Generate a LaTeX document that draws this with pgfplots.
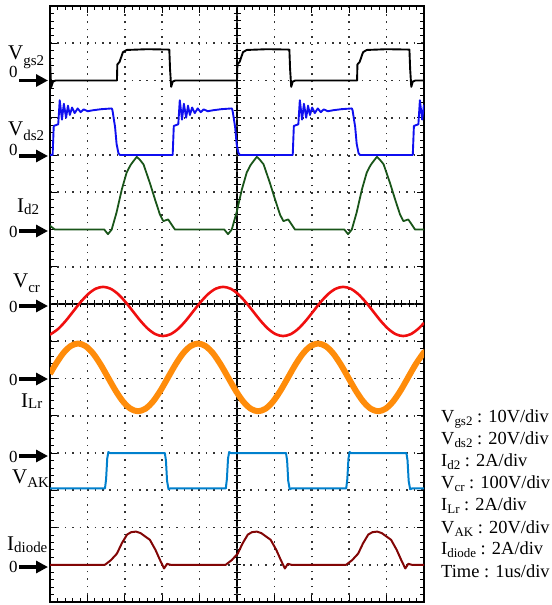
\documentclass[border=0pt]{standalone}
\usepackage{fontspec}
\setmainfont{Liberation Serif}
\usepackage{pgfplots}
\pgfplotsset{compat=1.18}
\usetikzlibrary{arrows.meta}

\definecolor{cgs}{RGB}{0,0,0}
\definecolor{cds}{RGB}{15,15,240}
\definecolor{cid}{RGB}{25,85,25}
\definecolor{ccr}{RGB}{240,15,15}
\definecolor{clr}{RGB}{255,140,10}
\definecolor{cak}{RGB}{0,128,205}
\definecolor{cdi}{RGB}{130,5,5}

% left channel labels and right scale list
\newcommand{\lblL}[3]{\fontsize{21}{21}\selectfont #1\raisebox{-#3bp}{\fontsize{15}{15}\selectfont #2}}
\newcommand{\lblR}[3]{\fontsize{18.5}{18.5}\selectfont #1\raisebox{-3bp}{\fontsize{13}{13}\selectfont #2} : #3}

\pgfplotsset{scopeframe/.style={at={(50bp,-602bp)}, anchor=south west,
    width=374bp, height=596bp, scale only axis,
    xticklabels={}, yticklabels={}, minor tick num=4}}

\begin{document}
\begin{tikzpicture}
\useasboundingbox (0,0) rectangle (552bp,-605bp);

% centre cross of the scope screen
\begin{axis}[scopeframe, xmin=-5, xmax=5, ymin=-8, ymax=8,
    axis lines=middle, axis line style={-, line width=1.3pt},
    xtick={-5,...,5}, ytick={-8,...,8}, tick align=center,
    major tick length=8bp, minor tick length=7bp,
    tick style={black, line width=0.8pt}]
\end{axis}

% grid, frame and traces (x in us, y in divisions: channel value / scale + zero level)
\begin{axis}[scopeframe, xmin=0, xmax=10, ymin=0, ymax=16,
    xtick={0,...,10}, ytick={0,...,16}, tick align=inside,
    major tick length=7bp, minor tick length=4bp,
    tick style={black, line width=0.8pt}, axis line style={line width=1.1pt},
    grid=major, major grid style={black!80, line width=1.6pt, dash pattern=on 1.6pt off 5.85pt},
    every axis plot/.append style={line join=round}]

% I_Lr, 2 A/div, zero at 6
\addplot[clr, line width=6pt, smooth, y filter/.expression={y/2+6}] coordinates {
(0,0.25)(0.15,0.76)(0.35,1.35)(0.55,1.74)(0.75,1.88)(0.95,1.74)(1.15,1.35)(1.35,0.76)
(1.55,0.06)(1.75,-0.64)(1.95,-1.23)(2.15,-1.62)(2.35,-1.76)(2.555,-1.62)(2.756,-1.23)
(2.957,-0.64)(3.157,0.06)(3.358,0.76)(3.558,1.35)(3.759,1.74)(3.96,1.88)(4.16,1.74)
(4.36,1.35)(4.56,0.76)(4.762,0.06)(4.963,-0.64)(5.163,-1.23)(5.364,-1.62)(5.564,-1.76)
(5.765,-1.62)(5.966,-1.23)(6.166,-0.64)(6.367,0.06)(6.567,0.76)(6.768,1.35)(6.969,1.74)
(7.169,1.88)(7.37,1.74)(7.57,1.35)(7.771,0.76)(7.972,0.06)(8.172,-0.64)(8.373,-1.23)
(8.573,-1.62)(8.774,-1.76)(8.975,-1.62)(9.175,-1.23)(9.376,-0.64)(9.576,0.06)(9.777,0.76)
(9.978,1.35)(10,1.40)};

% V_gs2, 10 V/div, zero at 14
\addplot[cgs, line width=1.9pt, y filter/.expression={y/10+14}] coordinates {
(0,5.6)(0.03,-1.8)(0.08,-0.3)(0.15,0)(1.79,0)(1.80,4.3)(1.86,5.0)(1.95,7.6)(2.05,8.2)
(2.6,8.4)(3.19,8.3)(3.21,3)(3.24,-1.7)(3.28,-0.3)(3.35,0)(5.00,0)(5.01,4.3)(5.07,5.0)
(5.16,7.6)(5.26,8.2)(5.8,8.4)(6.40,8.3)(6.42,3)(6.45,-1.7)(6.49,-0.3)(6.56,0)(8.21,0)
(8.22,4.3)(8.28,5.0)(8.37,7.6)(8.47,8.2)(9.0,8.4)(9.61,8.3)(9.63,3)(9.66,-1.7)(9.70,-0.3)
(9.77,0)(10,0)};

% V_ds2, 20 V/div, zero at 12
\addplot[cds, line width=1.9pt, y filter/.expression={y/20+12}] coordinates {
(0,0)(0.07,0)(0.10,15.6)(0.22,16.5)(0.26,29.4)(0.32,19)(0.37,27.5)(0.43,20)(0.48,26.5)
(0.53,21.5)(0.59,25.5)(0.66,22.5)(0.74,25)(0.82,23)(0.90,24.5)(1.01,23.5)(1.14,24)
(1.37,24.6)(1.65,25)(1.67,24)(1.74,15)(1.78,6)(1.83,1)(1.87,0)
(3.28,0)(3.31,15.6)(3.43,16.5)(3.47,29.4)(3.53,19)(3.58,27.5)(3.64,20)(3.69,26.5)
(3.74,21.5)(3.80,25.5)(3.87,22.5)(3.95,25)(4.03,23)(4.11,24.5)(4.22,23.5)(4.35,24)
(4.58,24.6)(4.86,25)(4.88,24)(4.95,15)(4.99,6)(5.04,1)(5.08,0)
(6.49,0)(6.52,15.6)(6.64,16.5)(6.68,29.4)(6.74,19)(6.79,27.5)(6.85,20)(6.90,26.5)
(6.95,21.5)(7.01,25.5)(7.08,22.5)(7.16,25)(7.24,23)(7.32,24.5)(7.43,23.5)(7.56,24)
(7.79,24.6)(8.07,25)(8.09,24)(8.16,15)(8.20,6)(8.25,1)(8.29,0)
(9.70,0)(9.73,15.6)(9.85,16.5)(9.89,29.4)(9.95,19)(10,27)};

% I_d2, 2 A/div, zero at 10
\addplot[cid, line width=1.8pt, y filter/.expression={y/2+10}] coordinates {
(0,0.2)(0.13,0)(1.45,0)(1.55,-0.25)(1.65,0)(1.78,0.92)(1.92,2.15)(2.05,3.06)(2.15,3.45)
(2.23,3.67)(2.32,3.9)(2.40,3.75)(2.50,3.5)(2.67,2.5)(2.81,1.6)(2.94,0.8)(3.03,0.45)
(3.10,0.5)(3.16,0.54)(3.25,0.27)(3.34,0)
(4.66,0)(4.76,-0.25)(4.86,0)(4.99,0.92)(5.13,2.15)(5.26,3.06)(5.36,3.45)(5.44,3.67)
(5.53,3.9)(5.61,3.75)(5.71,3.5)(5.88,2.5)(6.02,1.6)(6.15,0.8)(6.24,0.45)(6.31,0.5)
(6.37,0.54)(6.46,0.27)(6.55,0)
(7.87,0)(7.97,-0.25)(8.07,0)(8.20,0.92)(8.34,2.15)(8.47,3.06)(8.57,3.45)(8.65,3.67)
(8.74,3.9)(8.82,3.75)(8.92,3.5)(9.09,2.5)(9.23,1.6)(9.36,0.8)(9.45,0.45)(9.52,0.5)
(9.58,0.54)(9.67,0.27)(9.76,0)(10,0)};

% V_cr, 100 V/div, zero at 8
\addplot[ccr, line width=2.6pt, smooth, y filter/.expression={y/100+8}] coordinates {
(0,-81.7)(0.02,-81)(0.22,-66.7)(0.42,-45.3)(0.62,-20)(0.82,5.3)(1.02,26.7)(1.22,41)
(1.42,46)(1.62,41)(1.82,26.7)(2.02,5.3)(2.22,-20)(2.42,-45.3)(2.62,-66.7)(2.82,-81)
(3.02,-86)(3.225,-81)(3.426,-66.7)(3.627,-45.3)(3.827,-20)(4.028,5.3)(4.228,26.7)
(4.429,41)(4.63,46)(4.83,41)(5.03,26.7)(5.23,5.3)(5.432,-20)(5.633,-45.3)(5.833,-66.7)
(6.034,-81)(6.234,-86)(6.435,-81)(6.636,-66.7)(6.836,-45.3)(7.037,-20)(7.237,5.3)
(7.438,26.7)(7.639,41)(7.839,46)(8.04,41)(8.24,26.7)(8.441,5.3)(8.642,-20)(8.842,-45.3)
(9.043,-66.7)(9.243,-81)(9.444,-86)(9.645,-81)(9.845,-66.7)(10,-50.8)};

% V_AK, 20 V/div, zero at 4
\addplot[cak, line width=2pt, y filter/.expression={y/20+4}] coordinates {
(0,-19)(1.47,-19)(1.50,-14)(1.53,-3)(1.56,0.5)(1.60,0)(3.07,0)(3.10,-4)(3.13,-15)
(3.17,-19.5)(3.22,-19)(4.70,-19)(4.73,-14)(4.76,-3)(4.79,0.5)(4.83,0)(6.31,0)(6.34,-4)
(6.37,-15)(6.41,-19.5)(6.46,-19)(7.92,-19)(7.95,-14)(7.98,-3)(8.01,0.5)(8.05,0)(9.53,0)
(9.56,-4)(9.59,-15)(9.63,-19.5)(9.68,-19)(10,-19)};

% I_diode, 2 A/div, zero at 1
\addplot[cdi, line width=2pt, y filter/.expression={y/2+1}] coordinates {
(0,0)(1.47,0)(1.63,0.25)(1.79,0.6)(1.92,1.15)(2.06,1.62)(2.17,1.75)(2.30,1.78)(2.42,1.7)
(2.67,1.34)(2.82,0.8)(2.94,0.26)(3.05,-0.2)(3.13,0.05)(3.22,0)
(4.70,0)(4.86,0.25)(5.02,0.6)(5.15,1.15)(5.29,1.62)(5.40,1.75)(5.53,1.78)(5.65,1.7)
(5.90,1.34)(6.05,0.8)(6.17,0.26)(6.28,-0.2)(6.36,0.05)(6.45,0)
(7.92,0)(8.08,0.25)(8.24,0.6)(8.37,1.15)(8.51,1.62)(8.62,1.75)(8.75,1.78)(8.87,1.7)
(9.12,1.34)(9.27,0.8)(9.39,0.26)(9.50,-0.2)(9.58,0.05)(9.67,0)(10,0)};
\end{axis}

% channel names
\node[anchor=base west, inner sep=0] at (8bp,-59bp) {\lblL{V}{gs2}{6}};
\node[anchor=base west, inner sep=0] at (8bp,-135bp) {\lblL{V}{ds2}{5}};
\node[anchor=base west, inner sep=0] at (17bp,-212bp) {\lblL{I}{d2}{2}};
\node[anchor=base west, inner sep=0] at (13bp,-287bp) {\lblL{V}{cr}{5}};
\node[anchor=base west, inner sep=0] at (21bp,-407bp) {\lblL{I}{Lr}{1.5}};
\node[anchor=base west, inner sep=0] at (12bp,-483bp) {\lblL{V}{AK}{4}};
\node[anchor=base west, inner sep=0] at (7bp,-550bp) {\lblL{I}{diode}{2}};

% zero markers
\foreach \yz/\yb in {80.5/77, 156/155, 231/237, 306/312, 379/385, 456/462, 567/572}{
  \node[anchor=base west, inner sep=0, font=\fontsize{17}{17}\selectfont] at (9bp,-\yb bp) {0};
  \draw[line width=3.5bp, -{Triangle[length=12bp,width=12bp]}] (19bp,-\yz bp) -- (48bp,-\yz bp);
}

% scale list
\node[anchor=base west, inner sep=0] at (441bp,-422bp) {\lblR{V}{gs2}{10V/div}};
\node[anchor=base west, inner sep=0] at (441bp,-444bp) {\lblR{V}{ds2}{20V/div}};
\node[anchor=base west, inner sep=0] at (441bp,-466bp) {\lblR{I}{d2}{2A/div}};
\node[anchor=base west, inner sep=0] at (441bp,-488bp) {\lblR{V}{cr}{100V/div}};
\node[anchor=base west, inner sep=0] at (441bp,-510bp) {\lblR{I}{Lr}{2A/div}};
\node[anchor=base west, inner sep=0] at (441bp,-533bp) {\lblR{V}{AK}{20V/div}};
\node[anchor=base west, inner sep=0] at (441bp,-554bp) {\lblR{I}{diode}{2A/div}};
\node[anchor=base west, inner sep=0, font=\fontsize{18.5}{18.5}\selectfont] at (441bp,-577bp) {Time : 1us/div};
\end{tikzpicture}
\end{document}
